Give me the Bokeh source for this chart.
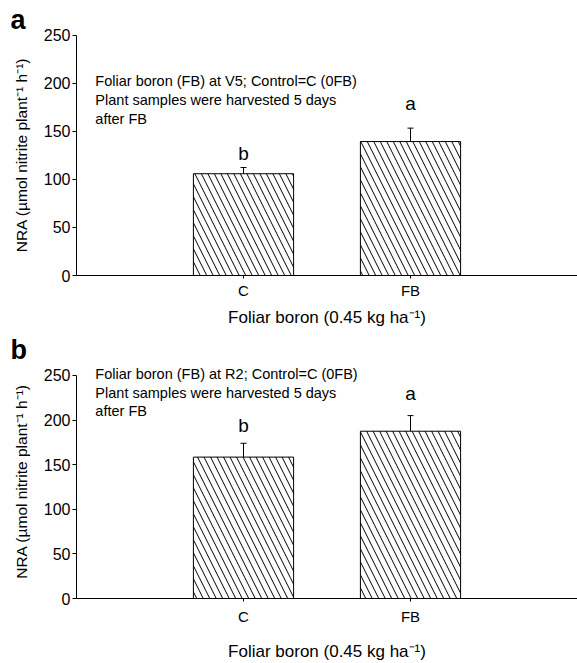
from bokeh.plotting import figure
from bokeh.layouts import column
from bokeh.models import (ColumnDataSource, FixedTicker, Whisker, TeeHead, Label, Range1d)
from bokeh.embed import file_html
from bokeh.resources import INLINE
from bokeh.core.properties import value

# ---- data ----
categories = ["C", "FB"]
cat_pos = [1, 2]
nra_v5 = [106, 139.5]
err_v5 = [6.5, 14]
letters_v5 = ["b", "a"]
nra_r2 = [158.5, 187.5]
err_r2 = [15.5, 17.5]
letters_r2 = ["b", "a"]
y_ticks = [0, 50, 100, 150, 200, 250]
note_v5 = ["Foliar boron (FB) at V5; Control=C (0FB)",
           "Plant samples were harvested 5 days",
           "after FB"]
note_r2 = ["Foliar boron (FB) at R2; Control=C (0FB)",
           "Plant samples were harvested 5 days",
           "after FB"]

FONT = "Liberation Sans"


def make_panel(tag, vals, errs, letters, letter_off, notes, note_y, height,
               y_end, bottom, tick_standoff, label_standoff):
    p = figure(width=577, height=height, output_backend="svg", toolbar_location=None,
               x_range=Range1d(0, 3), y_range=Range1d(0, y_end),
               min_border_left=76, min_border_right=0,
               min_border_top=34, min_border_bottom=bottom)
    p.outline_line_color = None
    p.grid.visible = False
    p.background_fill_color = "white"
    p.border_fill_color = "white"

    p.title.text = tag
    p.title.align = "left"
    p.title.offset = -66
    p.title.standoff = 0
    p.title.text_font = FONT
    p.title.text_font_size = "27px"
    p.title.text_font_style = "bold"
    p.title.text_color = "black"

    src = ColumnDataSource(dict(x=cat_pos, top=vals,
                                upper=[v + e for v, e in zip(vals, errs)],
                                letter=letters, off=letter_off))
    p.vbar(x="x", top="top", width=0.6, bottom=0, source=src,
           fill_color="white", line_color="black", line_width=1,
           hatch_pattern="\\", hatch_color="black", hatch_scale=13, hatch_weight=1)
    w = Whisker(base="x", lower="top", upper="upper", source=src,
                line_color="black", line_width=1,
                upper_head=TeeHead(size=6, line_color="black", line_width=1),
                lower_head=None)
    p.add_layout(w)
    p.text(x="x", y="upper", text="letter", source=src, y_offset="off",
           text_align="center", text_baseline="alphabetic",
           text_font=value(FONT), text_font_size="19px", text_color="black")

    for t, yv in zip(notes, note_y):
        p.add_layout(Label(x=0.113, y=yv, y_offset=4, text=t, text_align="left",
                           text_baseline="alphabetic", text_font=FONT,
                           text_font_size="14.5px", text_color="black"))

    # axes
    xa = p.xaxis[0]
    xa.ticker = FixedTicker(ticks=cat_pos)
    xa.major_label_overrides = {c: t for c, t in zip(cat_pos, categories)}
    xa.minor_tick_line_color = None
    xa.major_tick_in = 0
    xa.major_tick_out = 3
    xa.major_label_standoff = tick_standoff
    xa.major_label_text_font = FONT
    xa.major_label_text_font_size = "15px"
    xa.major_label_text_color = "black"
    xa.axis_label = "Foliar boron (0.45 kg ha\u207b\u00b9)"
    xa.axis_label_text_font = FONT
    xa.axis_label_text_font_size = "17px"
    xa.axis_label_text_font_style = "normal"
    xa.axis_label_text_color = "black"
    xa.axis_label_standoff = label_standoff
    xa.axis_line_color = "black"

    ya = p.yaxis[0]
    ya.ticker = FixedTicker(ticks=y_ticks)
    ya.bounds = (0, 250)
    ya.minor_tick_line_color = None
    ya.major_tick_in = 0
    ya.major_tick_out = 4
    ya.major_label_standoff = 2
    ya.major_label_text_font = FONT
    ya.major_label_text_font_size = "16px"
    ya.major_label_text_color = "black"
    ya.axis_label = "NRA (\u00b5mol nitrite plant\u207b\u00b9 h\u207b\u00b9)"
    ya.axis_label_text_font = FONT
    ya.axis_label_text_font_size = "15.5px"
    ya.axis_label_text_font_style = "normal"
    ya.axis_label_text_color = "black"
    ya.axis_label_standoff = 11
    ya.axis_line_color = "black"
    return p


pa = make_panel("a", nra_v5, err_v5, letters_v5, [-14, -25], note_v5,
                [198, 179, 159], 330, 251.0, 55, 3, 6)
pb = make_panel("b", nra_r2, err_r2, letters_r2, [-18, -22], note_r2,
                [246.7, 225.4, 205.4], 333, 262.3, 64, 6, 14)

layout = column(pa, pb, spacing=0)
open("out.html", "w").write(file_html(layout, INLINE))
